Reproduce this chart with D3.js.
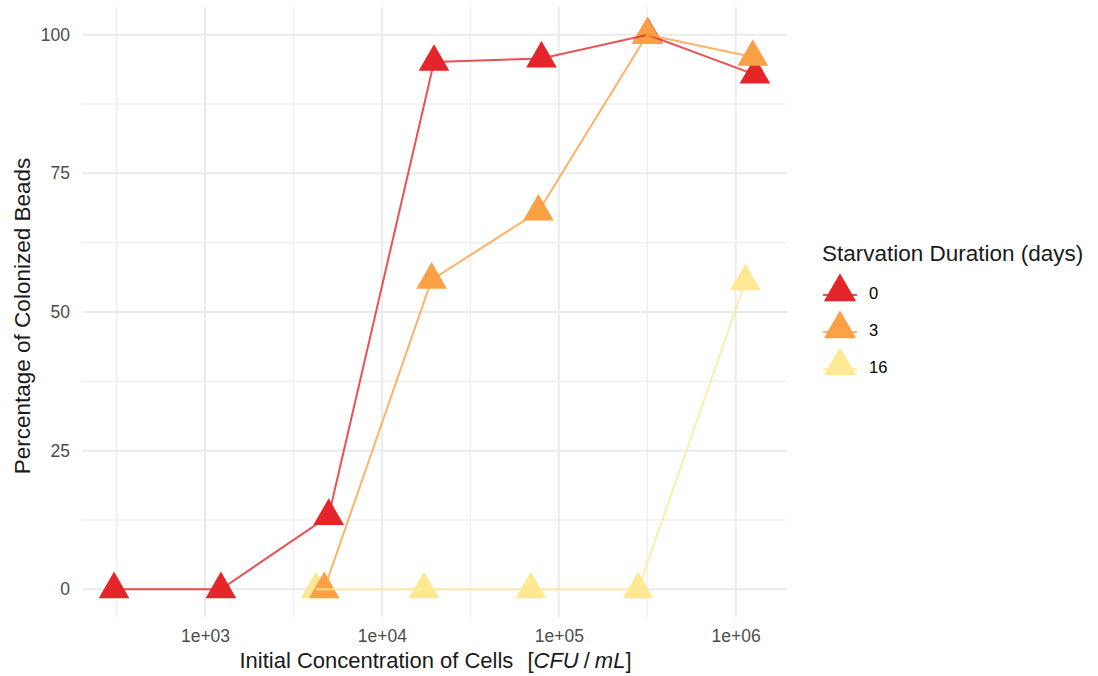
<!DOCTYPE html>
<html lang="en">
	<head>
		<meta charset="utf-8">
		<title>Colonized beads vs initial concentration</title>
		<script type="text/javascript" src="https://cdn.jsdelivr.net/npm/d3@7"></script>
		<style type="text/css">
			body { margin: 0; background: #fff; }
			text { font-family: "Liberation Sans", Arial, Helvetica, sans-serif; }
		</style>
	</head>
	<body>
		<script type="text/javascript">
			//Width and height
			var w = 1098;
			var h = 676;

			//Data: starvation groups (days), colours, and one series per group
			var groups = ["0", "3", "16"];
			var colors = ["#e4252a", "#fba044", "#fee893"];

			var conc0 = [306, 1230, 5000, 19700, 79800, 318000, 1285000];
			var pct0 = [0, 0, 13.2, 95.1, 95.7, 100, 92.8];

			var conc3 = [4720, 19100, 76700, 316000, 1250000];
			var pct3 = [0, 55.8, 68.1, 100, 96.0];

			var conc16 = [4240, 17300, 69500, 281000, 1135000];
			var pct16 = [0, 0, 0, 0, 55.5];

			var xTicks = [1e3, 1e4, 1e5, 1e6];
			var xTickLabels = ["1e+03", "1e+04", "1e+05", "1e+06"];
			var xMinor = [Math.pow(10, 2.5), Math.pow(10, 3.5), Math.pow(10, 4.5), Math.pow(10, 5.5)];
			var yTicks = [0, 25, 50, 75, 100];
			var yMinor = [12.5, 37.5, 62.5, 87.5];

			//build a series table from the arrays
			var series = [
				{ group: groups[0], color: colors[0], values: conc0.map(function(c, i) { return { x: c, y: pct0[i] }; }) },
				{ group: groups[1], color: colors[1], values: conc3.map(function(c, i) { return { x: c, y: pct3[i] }; }) },
				{ group: groups[2], color: colors[2], values: conc16.map(function(c, i) { return { x: c, y: pct16[i] }; }) }
			];

			//panel edges
			var panelL = 82, panelR = 787, panelT = 7, panelB = 617;

			//log x domain with 5% expansion like ggplot
			var allX = conc0.concat(conc3, conc16);
			var lo = Math.log10(d3.min(allX)), hi = Math.log10(d3.max(allX));
			var ex = (hi - lo) * 0.05;
			var xScale = d3.scaleLog()
							.domain([Math.pow(10, lo - ex), Math.pow(10, hi + ex)])
							.range([panelL, panelR]);

			var yScale = d3.scaleLinear()
							.domain([-5, 105])
							.range([panelB, panelT]);

			var svg = d3.select("body")
						.append("svg")
						.attr("width", w)
						.attr("height", h);

			//grid lines
			var grid = svg.append("g").attr("id", "grid");
			grid.selectAll("line.xminor")
				.data(xMinor)
				.enter()
				.append("line")
				.attr("x1", function(d) { return xScale(d); })
				.attr("x2", function(d) { return xScale(d); })
				.attr("y1", panelT)
				.attr("y2", panelB)
				.attr("stroke", "#f0f0f0")
				.attr("stroke-width", 1.5);
			grid.selectAll("line.yminor")
				.data(yMinor)
				.enter()
				.append("line")
				.attr("x1", panelL)
				.attr("x2", panelR)
				.attr("y1", function(d) { return yScale(d); })
				.attr("y2", function(d) { return yScale(d); })
				.attr("stroke", "#f0f0f0")
				.attr("stroke-width", 1.5);
			grid.selectAll("line.xmajor")
				.data(xTicks)
				.enter()
				.append("line")
				.attr("x1", function(d) { return xScale(d); })
				.attr("x2", function(d) { return xScale(d); })
				.attr("y1", panelT)
				.attr("y2", panelB)
				.attr("stroke", "#ebebeb")
				.attr("stroke-width", 2);
			grid.selectAll("line.ymajor")
				.data(yTicks)
				.enter()
				.append("line")
				.attr("x1", panelL)
				.attr("x2", panelR)
				.attr("y1", function(d) { return yScale(d); })
				.attr("y2", function(d) { return yScale(d); })
				.attr("stroke", "#ebebeb")
				.attr("stroke-width", 2);

			//axes (labels only)
			var xAxis = d3.axisBottom(xScale)
							.tickValues(xTicks)
							.tickFormat(function(d, i) { return xTickLabels[i]; })
							.tickSize(0)
							.tickPadding(12.5);
			var yAxis = d3.axisLeft(yScale)
							.tickValues(yTicks)
							.tickSize(0)
							.tickPadding(12);

			var gx = svg.append("g")
				.attr("transform", "translate(0," + panelB + ")")
				.call(xAxis);
			var gy = svg.append("g")
				.attr("transform", "translate(" + panelL + ",0)")
				.call(yAxis);
			[gx, gy].forEach(function(g) {
				g.select(".domain").remove();
				g.selectAll("text")
					.attr("font-family", "Liberation Sans, Arial, sans-serif")
					.attr("font-size", "17.5px")
					.attr("fill", "#4d4d4d");
			});

			//triangle (R pch 17, centred on its centroid)
			function tri(R) {
				var r = 1.555 * R, xc = 1.347 * R, yc = 0.778 * R;
				return "M0," + (-r) + "L" + xc + "," + yc + "L" + (-xc) + "," + yc + "Z";
			}

			//points first
			var drawOrder = [2, 0, 1];
			drawOrder.forEach(function(k) {
				var s = series[k];
				svg.append("g")
					.selectAll("path")
					.data(s.values)
					.enter()
					.append("path")
					.attr("d", tri(11.4))
					.attr("transform", function(d) {
						return "translate(" + xScale(d.x) + "," + yScale(d.y) + ")";
					})
					.attr("fill", s.color);
			});

			//lines on top
			var line = d3.line()
						.x(function(d) { return xScale(d.x); })
						.y(function(d) { return yScale(d.y); });
			series.forEach(function(s) {
				svg.append("path")
					.datum(s.values)
					.attr("d", line)
					.attr("fill", "none")
					.attr("stroke", s.color)
					.attr("stroke-opacity", 0.8)
					.attr("stroke-width", 2);
			});

			//axis titles
			var xt = svg.append("text")
				.attr("x", (panelL + panelR) / 2 + 1)
				.attr("y", 668)
				.attr("text-anchor", "middle")
				.attr("font-size", "22px")
				.attr("fill", "#1a1a1a");
			xt.append("tspan").text("Initial Concentration of Cells");
			xt.append("tspan").attr("dx", 14).text("[");
			xt.append("tspan").attr("font-style", "italic").text("CFU");
			xt.append("tspan").attr("dx", 5).text("/");
			xt.append("tspan").attr("dx", 5).attr("font-style", "italic").text("mL");
			xt.append("tspan").text("]");

			svg.append("text")
				.attr("transform", "translate(30," + ((panelT + panelB) / 2 + 4) + ") rotate(-90)")
				.attr("text-anchor", "middle")
				.attr("font-size", "22.5px")
				.attr("fill", "#1a1a1a")
				.text("Percentage of Colonized Beads");

			//legend
			var legend = svg.append("g").attr("id", "legend");
			legend.append("text")
				.attr("x", 822)
				.attr("y", 261)
				.attr("font-size", "22.5px")
				.attr("fill", "#1a1a1a")
				.text("Starvation Duration (days)");

			var keyY = d3.scalePoint().domain(groups).range([293, 367]);
			var keys = legend.selectAll("g.key")
				.data(series)
				.enter()
				.append("g")
				.attr("transform", function(d) { return "translate(840," + keyY(d.group) + ")"; });
			keys.append("path")
				.attr("d", tri(12))
				.attr("transform", "translate(0,-1)")
				.attr("fill", function(d) { return d.color; });
			keys.append("line")
				.attr("x1", -17)
				.attr("x2", 17)
				.attr("y1", 2)
				.attr("y2", 2)
				.attr("stroke", function(d) { return d.color; })
				.attr("stroke-opacity", 0.8)
				.attr("stroke-width", 2);
			keys.append("text")
				.attr("x", 29)
				.attr("dy", "0.35em")
				.attr("font-size", "16.5px")
				.attr("fill", "#000")
				.text(function(d) { return d.group; });
		</script>
	</body>
</html>
